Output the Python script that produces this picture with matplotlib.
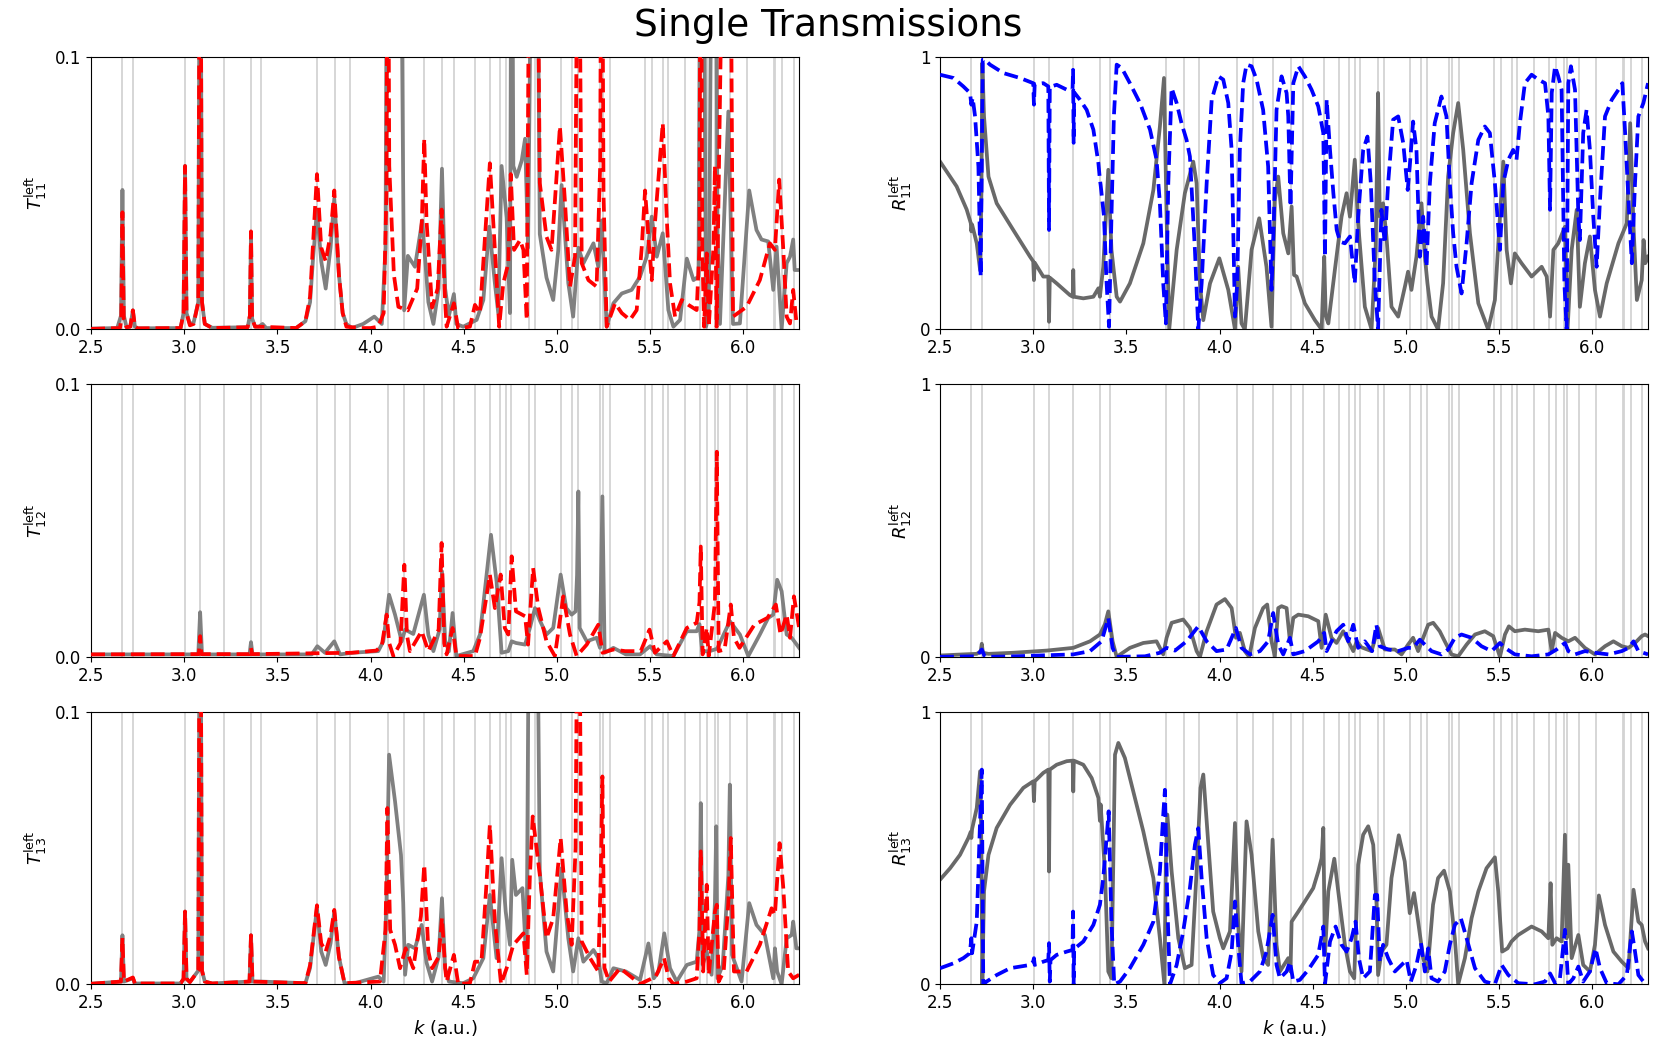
import matplotlib
matplotlib.use("Agg")
import matplotlib.pyplot as plt

# resonance positions (light grey vertical lines), same in every panel
VLINES = [2.668, 2.727, 3.004, 3.085, 3.214, 3.358, 3.412, 3.712, 3.809, 3.889,
          4.092, 4.181, 4.288, 4.383, 4.449, 4.561, 4.641, 4.695, 4.725, 4.752,
          4.851, 4.882, 5.020, 5.081, 5.115, 5.229, 5.247, 5.283, 5.473, 5.509,
          5.570, 5.597, 5.688, 5.770, 5.806, 5.849, 5.867, 5.931, 6.018, 6.163,
          6.172, 6.207, 6.270]

X_TICKS = [2.5, 3.0, 3.5, 4.0, 4.5, 5.0, 5.5, 6.0]

# (k, value) pairs
T11_GRAY = [(2.5, 0.0003), (2.64, 0.0005), (2.66, 0.005), (2.668, 0.0512), (2.676, 0.005),
            (2.69, 0.0008), (2.71, 0.001), (2.724, 0.007), (2.735, 0.001), (2.75, 0.0004),
            (2.98, 0.0005), (2.996, 0.006),
            (3.004, 0.060), (3.012, 0.006), (3.03, 0.002), (3.05, 0.0025), (3.075, 0.01), (3.085, 0.2),
            (3.095, 0.01), (3.11, 0.002), (3.15, 0.0006), (3.34, 0.0008), (3.352, 0.005), (3.358, 0.0355),
            (3.364, 0.004), (3.38, 0.001),
            (3.40, 0.001), (3.42, 0.002), (3.44, 0.0005), (3.6, 0.0005), (3.65, 0.003),
            (3.675, 0.01), (3.69, 0.025), (3.712, 0.044), (3.735, 0.025), (3.759, 0.015), (3.785, 0.03),
            (3.805, 0.048), (3.83, 0.02), (3.85, 0.006), (3.87, 0.002), (3.9, 0.0005), (3.96, 0.002),
            (4.02, 0.0047), (4.06, 0.002), (4.08, 0.03), (4.09, 0.2), (4.12, 0.2),
            (4.158, 0.2), (4.18, 0.007), (4.20, 0.027), (4.238, 0.023), (4.277, 0.040),
            (4.31, 0.01), (4.337, 0.002), (4.365, 0.015), (4.383, 0.059), (4.40, 0.015),
            (4.42, 0.005), (4.447, 0.013), (4.46, 0.002), (4.497, 0.001), (4.569, 0.0035),
            (4.605, 0.0108), (4.637, 0.0377), (4.667, 0.0169), (4.685, 0.006), (4.703, 0.060),
            (4.730, 0.041), (4.748, 0.006), (4.757, 0.2), (4.766, 0.06), (4.784, 0.056),
            (4.811, 0.062), (4.829, 0.070), (4.845, 0.03), (4.87, 0.2), (4.89, 0.2),
            (4.908, 0.035), (4.944, 0.019), (4.980, 0.0108), (5.007, 0.029), (5.025, 0.053),
            (5.061, 0.017), (5.087, 0.0047), (5.115, 0.03), (5.142, 0.0243), (5.196, 0.0316),
            (5.222, 0.023), (5.240, 0.04), (5.267, 0.001), (5.303, 0.0096), (5.348, 0.0132),
            (5.401, 0.0145), (5.446, 0.0194), (5.482, 0.0267), (5.509, 0.0414), (5.536, 0.0267),
            (5.568, 0.0353), (5.598, 0.0071), (5.625, 0.001), (5.661, 0.0035), (5.697, 0.026),
            (5.733, 0.0181), (5.760, 0.0194), (5.772, 0.2), (5.785, 0.2), (5.800, 0.001),
            (5.815, 0.0047), (5.835, 0.2), (5.850, 0.2), (5.862, 0.035), (5.875, 0.002),
            (5.92, 0.08), (5.945, 0.002), (5.982, 0.0022), (6.032, 0.051), (6.071, 0.0365),
            (6.098, 0.033), (6.134, 0.0323), (6.161, 0.0145), (6.179, 0.0304), (6.206, 0.0),
            (6.233, 0.0243), (6.251, 0.0267), (6.268, 0.033), (6.276, 0.0218), (6.3, 0.0218)]

T11_RED = [(2.5, 0.0002), (2.655, 0.0005), (2.662, 0.004), (2.668, 0.043), (2.675, 0.004),
           (2.69, 0.0008), (2.71, 0.001), (2.724, 0.007), (2.735, 0.001), (2.75, 0.0004),
           (2.98, 0.0005), (2.996, 0.006),
           (3.004, 0.060), (3.012, 0.006), (3.03, 0.0015), (3.05, 0.002), (3.075, 0.01), (3.085, 0.2),
           (3.095, 0.01), (3.11, 0.002), (3.15, 0.0005), (3.34, 0.0008), (3.352, 0.005), (3.358, 0.036),
           (3.364, 0.004), (3.38, 0.001),
           (3.40, 0.001), (3.6, 0.0005), (3.65, 0.003), (3.675, 0.012), (3.69, 0.03), (3.712, 0.057),
           (3.735, 0.03), (3.759, 0.025), (3.785, 0.035), (3.805, 0.051), (3.83, 0.02), (3.85, 0.006),
           (3.87, 0.001), (3.95, 0.0005), (4.0, 0.0005), (4.04, 0.001), (4.07, 0.006),
           (4.085, 0.05), (4.092, 0.2), (4.10, 0.06), (4.125, 0.02), (4.149, 0.0083),
           (4.20, 0.007), (4.25, 0.015), (4.275, 0.04), (4.288, 0.070), (4.30, 0.04),
           (4.33, 0.008), (4.36, 0.015), (4.381, 0.044), (4.40, 0.01), (4.408, 0.001),
           (4.447, 0.0096), (4.47, 0.0004), (4.533, 0.001), (4.56, 0.009), (4.587, 0.006),
           (4.614, 0.0341), (4.64, 0.061), (4.667, 0.0292), (4.69, 0.001), (4.712, 0.0169),
           (4.739, 0.0243), (4.752, 0.057), (4.77, 0.0292), (4.802, 0.0328), (4.82, 0.0292),
           (4.838, 0.0035), (4.856, 0.2), (4.89, 0.2), (4.908, 0.0537), (4.944, 0.034),
           (4.971, 0.0292), (4.989, 0.047), (5.016, 0.0745), (5.043, 0.047), (5.07, 0.0157),
           (5.097, 0.0267), (5.115, 0.2), (5.133, 0.0243), (5.169, 0.0181), (5.213, 0.0157),
           (5.232, 0.06), (5.24, 0.2), (5.25, 0.05), (5.267, 0.001), (5.312, 0.0096),
           (5.348, 0.006), (5.392, 0.0035), (5.428, 0.0071), (5.455, 0.03), (5.473, 0.051),
           (5.495, 0.03), (5.509, 0.0181), (5.526, 0.039), (5.55, 0.06), (5.568, 0.0757),
           (5.59, 0.04), (5.607, 0.0169), (5.634, 0.0047), (5.67, 0.0108), (5.706, 0.009),
           (5.75, 0.0071), (5.765, 0.03), (5.772, 0.2), (5.780, 0.03), (5.790, 0.001),
           (5.804, 0.0279), (5.815, 0.001), (5.84, 0.03), (5.848, 0.06), (5.857, 0.001),
           (5.90, 0.2), (5.928, 0.2), (5.945, 0.0047), (6.018, 0.0083), (6.089, 0.0181),
           (6.143, 0.0316), (6.17, 0.0292), (6.193, 0.055), (6.215, 0.0292), (6.233, 0.0047),
           (6.251, 0.0022), (6.268, 0.0145), (6.286, 0.0022), (6.3, 0.0022)]

T12_GRAY = [(2.5, 0.0009), (3.075, 0.0009), (3.085, 0.0164), (3.095, 0.0009), (3.35, 0.0009),
            (3.358, 0.0054), (3.366, 0.0009), (3.684, 0.0009), (3.714, 0.0039), (3.755, 0.0015),
            (3.805, 0.0057), (3.836, 0.0009), (3.9, 0.0015), (4.041, 0.0021), (4.068, 0.0057),
            (4.099, 0.0228), (4.131, 0.0155), (4.167, 0.0057), (4.185, 0.0100), (4.229, 0.0084),
            (4.286, 0.0228), (4.31, 0.008), (4.337, 0.0021), (4.37, 0.01), (4.383, 0.0314),
            (4.40, 0.006), (4.42, 0.002), (4.44, 0.0161), (4.46, 0.0003), (4.551, 0.0021),
            (4.587, 0.0082), (4.646, 0.0448), (4.676, 0.0277), (4.703, 0.0015), (4.739, 0.0021),
            (4.757, 0.0057), (4.78, 0.0051), (4.829, 0.0045), (4.855, 0.0106), (4.882, 0.0179),
            (4.91, 0.0131), (4.944, 0.0082), (4.98, 0.0106), (5.02, 0.0302), (5.05, 0.0179),
            (5.079, 0.0155), (5.10, 0.0167), (5.108, 0.03), (5.115, 0.0607), (5.122, 0.0106),
            (5.16, 0.0057), (5.213, 0.007), (5.231, 0.0033), (5.244, 0.0589), (5.256, 0.0015),
            (5.303, 0.0033), (5.37, 0.0009), (5.446, 0.0009), (5.5, 0.0039), (5.535, 0.0009),
            (5.625, 0.0003), (5.697, 0.0094), (5.75, 0.0094), (5.765, 0.012), (5.78, 0.002),
            (5.82, 0.0021), (5.86, 0.003), (5.928, 0.0131), (5.982, 0.0082), (6.027, 0.0003),
            (6.089, 0.0082), (6.134, 0.0143), (6.161, 0.0155), (6.182, 0.0283), (6.206, 0.0241),
            (6.233, 0.0082), (6.26, 0.007), (6.3, 0.0033)]

T12_RED = [(2.5, 0.0009), (3.078, 0.001), (3.085, 0.0076), (3.092, 0.001), (3.352, 0.001),
           (3.358, 0.0033), (3.364, 0.001), (3.9, 0.0015), (4.03, 0.0023), (4.06, 0.004),
           (4.086, 0.0155), (4.10, 0.005), (4.122, 0.0003), (4.16, 0.005), (4.181, 0.0338),
           (4.195, 0.008), (4.211, 0.0021), (4.274, 0.0094), (4.31, 0.0021), (4.365, 0.01),
           (4.381, 0.0418), (4.395, 0.005), (4.408, 0.0009), (4.44, 0.0106), (4.46, 0.0003),
           (4.56, 0.0003), (4.587, 0.0070), (4.64, 0.0302), (4.667, 0.0179), (4.698, 0.0302),
           (4.72, 0.0106), (4.739, 0.0082), (4.757, 0.0369), (4.78, 0.0167), (4.829, 0.0149),
           (4.845, 0.0045), (4.872, 0.0326), (4.90, 0.0179), (4.944, 0.0057), (4.989, 0.0003),
           (5.034, 0.0222), (5.07, 0.0082), (5.106, 0.0003), (5.16, 0.0045), (5.222, 0.0118),
           (5.245, 0.0015), (5.303, 0.0027), (5.366, 0.0021), (5.45, 0.0021), (5.497, 0.0100),
           (5.526, 0.0015), (5.59, 0.0057), (5.625, 0.0003), (5.697, 0.0106), (5.75, 0.0125),
           (5.765, 0.02), (5.772, 0.0405), (5.782, 0.0009), (5.804, 0.0106), (5.815, 0.0003),
           (5.848, 0.02), (5.858, 0.0753), (5.868, 0.0021), (5.90, 0.0027), (5.933, 0.0192),
           (5.95, 0.007), (5.98, 0.0033), (6.06, 0.0118), (6.13, 0.0143), (6.175, 0.0192),
           (6.20, 0.0082), (6.233, 0.0155), (6.251, 0.007), (6.272, 0.0222), (6.3, 0.0106)]

T13_GRAY = [(2.5, 0.0002), (2.66, 0.001), (2.668, 0.018), (2.676, 0.001), (2.724, 0.0022),
            (2.735, 0.0003), (2.98, 0.0003), (2.996, 0.002), (3.004, 0.0267), (3.012, 0.002),
            (3.03, 0.0008), (3.075, 0.005),
            (3.085, 0.2), (3.095, 0.005), (3.11, 0.001), (3.15, 0.0003), (3.35, 0.001),
            (3.358, 0.018), (3.366, 0.001),
            (3.412, 0.001), (3.65, 0.0004), (3.675, 0.006), (3.69, 0.015), (3.712, 0.028), (3.735, 0.012),
            (3.759, 0.0071), (3.785, 0.015), (3.805, 0.0267), (3.83, 0.01), (3.86, 0.0004),
            (3.916, 0.0004), (4.041, 0.0028), (4.07, 0.001), (4.085, 0.03), (4.099, 0.0843),
            (4.131, 0.0672), (4.163, 0.0475), (4.175, 0.03), (4.185, 0.0035), (4.202, 0.0145),
            (4.238, 0.0132), (4.274, 0.0218), (4.30, 0.008), (4.33, 0.001), (4.365, 0.01),
            (4.383, 0.0316), (4.40, 0.006), (4.42, 0.001), (4.497, 0.0004), (4.551, 0.0022),
            (4.605, 0.0096), (4.64, 0.0328), (4.676, 0.0096), (4.703, 0.0463), (4.725, 0.0267),
            (4.748, 0.0145), (4.76, 0.0457), (4.78, 0.0328), (4.815, 0.0353), (4.837, 0.0071),
            (4.855, 0.2), (4.887, 0.2), (4.908, 0.0414), (4.944, 0.0120), (4.98, 0.0047),
            (5.025, 0.0426), (5.061, 0.0169), (5.087, 0.0047), (5.115, 0.0169), (5.142, 0.0083),
            (5.196, 0.0126), (5.222, 0.0096), (5.24, 0.001), (5.267, 0.0004), (5.303, 0.0059),
            (5.37, 0.0047), (5.446, 0.0016), (5.491, 0.015), (5.52, 0.0022), (5.545, 0.0047),
            (5.576, 0.0187), (5.607, 0.0059), (5.643, 0.001), (5.697, 0.0071), (5.75, 0.0083),
            (5.765, 0.02), (5.772, 0.0665), (5.782, 0.0071), (5.804, 0.012), (5.83, 0.0035),
            (5.848, 0.03), (5.855, 0.058), (5.862, 0.0022), (5.89, 0.0071), (5.92, 0.04),
            (5.928, 0.0733), (5.94, 0.0108), (5.991, 0.001), (6.032, 0.0298), (6.071, 0.0218),
            (6.116, 0.0181), (6.161, 0.0022), (6.17, 0.0132), (6.182, 0.0047), (6.206, 0.0),
            (6.233, 0.0169), (6.26, 0.0181), (6.268, 0.0230), (6.285, 0.0132), (6.3, 0.0132)]

T13_RED = [(2.5, 0.0002), (2.66, 0.001), (2.668, 0.017), (2.676, 0.001), (2.724, 0.0025),
           (2.735, 0.0003), (2.98, 0.0003), (2.996, 0.002), (3.004, 0.0267), (3.012, 0.002),
           (3.03, 0.0008), (3.075, 0.005),
           (3.085, 0.2), (3.095, 0.005), (3.11, 0.001), (3.15, 0.0003), (3.35, 0.001),
           (3.358, 0.018), (3.366, 0.001),
           (3.65, 0.0004), (3.675, 0.007), (3.69, 0.016), (3.712, 0.029), (3.735, 0.015), (3.759, 0.0120),
           (3.785, 0.018), (3.805, 0.0273), (3.83, 0.01), (3.86, 0.0004), (4.05, 0.001),
           (4.08, 0.02), (4.09, 0.0647), (4.105, 0.02), (4.131, 0.0145), (4.158, 0.0059),
           (4.188, 0.0132), (4.229, 0.0059), (4.27, 0.025), (4.288, 0.0439), (4.31, 0.012),
           (4.33, 0.0059), (4.365, 0.01), (4.383, 0.0243), (4.40, 0.006), (4.408, 0.001),
           (4.447, 0.0108), (4.47, 0.0001), (4.533, 0.0004), (4.56, 0.0083), (4.595, 0.0083),
           (4.62, 0.035), (4.64, 0.0586), (4.667, 0.023), (4.70, 0.0001), (4.73, 0.0059),
           (4.766, 0.0145), (4.82, 0.0187), (4.838, 0.0035), (4.855, 0.04), (4.87, 0.0616),
           (4.908, 0.0402), (4.944, 0.0169), (4.98, 0.0243), (5.02, 0.0537), (5.052, 0.0267),
           (5.079, 0.0145), (5.10, 0.05), (5.115, 0.2), (5.133, 0.0157), (5.178, 0.0096),
           (5.222, 0.0047), (5.235, 0.04), (5.244, 0.0763), (5.255, 0.006), (5.28, 0.001),
           (5.339, 0.0059), (5.384, 0.0035), (5.446, 0.0001), (5.53, 0.0028), (5.575, 0.0096),
           (5.60, 0.0022), (5.625, 0.0001), (5.697, 0.001), (5.75, 0.0022), (5.765, 0.02),
           (5.772, 0.0488), (5.785, 0.0047), (5.804, 0.0365), (5.815, 0.0035), (5.848, 0.0267),
           (5.858, 0.0292), (5.868, 0.001), (5.895, 0.0047), (5.92, 0.03), (5.933, 0.0537),
           (5.95, 0.0047), (6.018, 0.0047), (6.089, 0.0145), (6.152, 0.0279), (6.17, 0.0255),
           (6.195, 0.0518), (6.215, 0.0353), (6.241, 0.0047), (6.268, 0.0022), (6.3, 0.0035)]

R11_GRAY = [(2.5, 0.616), (2.589, 0.525), (2.643, 0.44), (2.665, 0.39), (2.668, 0.36),
            (2.672, 0.385), (2.697, 0.316), (2.715, 0.218), (2.722, 0.5), (2.727, 0.978),
            (2.736, 0.782), (2.76, 0.561), (2.804, 0.463), (2.893, 0.365), (2.983, 0.267),
            (3.0, 0.25), (3.004, 0.181), (3.008, 0.245), (3.054, 0.194), (3.081, 0.194),
            (3.085, 0.028), (3.089, 0.19), (3.126, 0.169), (3.197, 0.126), (3.212, 0.12),
            (3.215, 0.218), (3.218, 0.12), (3.269, 0.114), (3.323, 0.12), (3.35, 0.151),
            (3.358, 0.12), (3.362, 0.145), (3.376, 0.23), (3.403, 0.586), (3.42, 0.292),
            (3.448, 0.12), (3.466, 0.102), (3.519, 0.169), (3.591, 0.316), (3.645, 0.512),
            (3.68, 0.745), (3.702, 0.923), (3.716, 0.414), (3.73, 0.0), (3.77, 0.292),
            (3.814, 0.5), (3.859, 0.616), (3.877, 0.537), (3.895, 0.169), (3.913, 0.034),
            (3.949, 0.169), (3.999, 0.261), (4.047, 0.145), (4.083, 0.0), (4.1, 0.23),
            (4.118, 0.022), (4.136, 0.0), (4.172, 0.292), (4.213, 0.408), (4.252, 0.23),
            (4.279, 0.01), (4.297, 0.475), (4.315, 0.561), (4.342, 0.353), (4.369, 0.279),
            (4.387, 0.451), (4.40, 0.2), (4.414, 0.194), (4.458, 0.096), (4.512, 0.034),
            (4.548, 0.0), (4.562, 0.267), (4.57, 0.05), (4.584, 0.022), (4.619, 0.218),
            (4.655, 0.414), (4.682, 0.5), (4.70, 0.414), (4.726, 0.623), (4.744, 0.39),
            (4.78, 0.083), (4.816, 0.0), (4.838, 0.292), (4.851, 0.868), (4.86, 0.414),
            (4.878, 0.463), (4.896, 0.341), (4.923, 0.083), (4.959, 0.047), (4.995, 0.157),
            (5.012, 0.212), (5.03, 0.145), (5.057, 0.267), (5.084, 0.463), (5.102, 0.267),
            (5.116, 0.169), (5.138, 0.047), (5.173, 0.0), (5.2, 0.169), (5.227, 0.561),
            (5.254, 0.721), (5.281, 0.831), (5.308, 0.659), (5.344, 0.353), (5.389, 0.096),
            (5.442, 0.0), (5.478, 0.108), (5.505, 0.414), (5.523, 0.616), (5.541, 0.292),
            (5.564, 0.169), (5.585, 0.279), (5.621, 0.243), (5.675, 0.194), (5.729, 0.23),
            (5.756, 0.194), (5.774, 0.047), (5.792, 0.292), (5.818, 0.316), (5.854, 0.377),
            (5.868, 0.0), (5.89, 0.292), (5.917, 0.439), (5.934, 0.083), (5.961, 0.243),
            (5.988, 0.341), (6.015, 0.145), (6.042, 0.047), (6.078, 0.169), (6.141, 0.316),
            (6.186, 0.39), (6.204, 0.757), (6.222, 0.377), (6.24, 0.108), (6.266, 0.181),
            (6.276, 0.328), (6.285, 0.243), (6.3, 0.267)]

R11_BLUE = [(2.5, 0.935), (2.572, 0.923), (2.625, 0.892), (2.661, 0.868), (2.668, 0.825),
            (2.675, 0.85), (2.688, 0.782), (2.706, 0.598), (2.718, 0.194), (2.724, 0.6),
            (2.729, 0.99), (2.741, 0.99), (2.768, 0.972), (2.84, 0.941), (2.929, 0.923),
            (3.0, 0.904), (3.004, 0.825), (3.008, 0.9), (3.054, 0.904), (3.081, 0.892),
            (3.085, 0.365), (3.089, 0.89), (3.126, 0.898), (3.18, 0.88), (3.211, 0.88),
            (3.214, 0.953), (3.217, 0.685), (3.22, 0.87), (3.251, 0.843), (3.287, 0.806),
            (3.323, 0.733), (3.35, 0.61), (3.358, 0.55), (3.362, 0.53), (3.38, 0.414),
            (3.394, 0.169), (3.407, 0.01), (3.42, 0.414), (3.433, 0.782), (3.448, 0.972),
            (3.475, 0.96), (3.519, 0.904), (3.573, 0.831), (3.627, 0.733), (3.662, 0.623),
            (3.68, 0.463), (3.698, 0.169), (3.712, 0.022), (3.725, 0.537), (3.743, 0.886),
            (3.77, 0.831), (3.796, 0.757), (3.823, 0.696), (3.841, 0.635), (3.868, 0.292),
            (3.886, 0.0), (3.904, 0.169), (3.931, 0.537), (3.958, 0.843), (3.994, 0.929),
            (4.02, 0.917), (4.047, 0.831), (4.065, 0.659), (4.083, 0.047), (4.095, 0.169),
            (4.109, 0.659), (4.127, 0.904), (4.145, 0.972), (4.172, 0.966), (4.199, 0.917),
            (4.234, 0.806), (4.261, 0.598), (4.279, 0.145), (4.292, 0.414), (4.306, 0.806),
            (4.333, 0.929), (4.36, 0.868), (4.369, 0.782), (4.381, 0.451), (4.396, 0.904),
            (4.423, 0.966), (4.458, 0.929), (4.494, 0.88), (4.53, 0.819), (4.557, 0.721),
            (4.566, 0.267), (4.575, 0.843), (4.593, 0.659), (4.611, 0.5), (4.629, 0.365),
            (4.647, 0.322), (4.673, 0.316), (4.70, 0.341), (4.726, 0.169), (4.744, 0.414),
            (4.771, 0.659), (4.794, 0.708), (4.812, 0.537), (4.834, 0.169), (4.851, 0.0),
            (4.869, 0.439), (4.887, 0.316), (4.905, 0.537), (4.932, 0.77), (4.959, 0.782),
            (4.986, 0.684), (5.01, 0.512), (5.021, 0.598), (5.039, 0.763), (5.057, 0.659),
            (5.075, 0.267), (5.093, 0.414), (5.111, 0.23), (5.129, 0.537), (5.155, 0.757),
            (5.191, 0.855), (5.218, 0.782), (5.236, 0.537), (5.254, 0.353), (5.272, 0.23),
            (5.299, 0.132), (5.326, 0.316), (5.353, 0.537), (5.389, 0.696), (5.424, 0.745),
            (5.451, 0.721), (5.478, 0.537), (5.505, 0.292), (5.523, 0.537), (5.55, 0.623),
            (5.576, 0.659), (5.594, 0.623), (5.612, 0.757), (5.639, 0.904), (5.675, 0.935),
            (5.711, 0.917), (5.747, 0.904), (5.765, 0.782), (5.774, 0.439), (5.783, 0.868),
            (5.801, 0.966), (5.818, 0.929), (5.836, 0.88), (5.851, 0.169), (5.863, 0.0),
            (5.872, 0.904), (5.886, 0.966), (5.908, 0.88), (5.926, 0.414), (5.934, 0.328),
            (5.952, 0.721), (5.97, 0.806), (5.988, 0.659), (6.006, 0.414), (6.024, 0.23),
            (6.042, 0.475), (6.069, 0.782), (6.105, 0.843), (6.141, 0.88), (6.162, 0.904),
            (6.177, 0.721), (6.195, 0.475), (6.213, 0.243), (6.23, 0.537), (6.248, 0.782),
            (6.275, 0.831), (6.3, 0.904)]

R12_GRAY = [(2.5, 0.005), (2.625, 0.009), (2.697, 0.011), (2.718, 0.02), (2.724, 0.048),
            (2.73, 0.015), (2.76, 0.011), (2.893, 0.015), (3.072, 0.023), (3.215, 0.033),
            (3.305, 0.057), (3.358, 0.082), (3.385, 0.12), (3.403, 0.167), (3.426, 0.057),
            (3.448, 0.0), (3.519, 0.033), (3.591, 0.051), (3.662, 0.057), (3.698, 0.009),
            (3.716, 0.07), (3.743, 0.125), (3.805, 0.137), (3.841, 0.106), (3.877, 0.021),
            (3.895, 0.0), (3.931, 0.094), (3.984, 0.192), (4.029, 0.212), (4.065, 0.179),
            (4.088, 0.07), (4.109, 0.088), (4.136, 0.021), (4.159, 0.0), (4.19, 0.106),
            (4.234, 0.179), (4.256, 0.192), (4.279, 0.057), (4.297, 0.002), (4.315, 0.179),
            (4.333, 0.186), (4.36, 0.179), (4.378, 0.057), (4.396, 0.143), (4.423, 0.155),
            (4.476, 0.149), (4.53, 0.131), (4.548, 0.033), (4.57, 0.155), (4.601, 0.07),
            (4.628, 0.051), (4.664, 0.094), (4.691, 0.057), (4.718, 0.021), (4.736, 0.057),
            (4.762, 0.035), (4.816, 0.021), (4.851, 0.106), (4.887, 0.027), (4.941, 0.027),
            (4.977, 0.009), (5.012, 0.045), (5.039, 0.07), (5.066, 0.021), (5.093, 0.07),
            (5.12, 0.118), (5.147, 0.125), (5.182, 0.094), (5.209, 0.057), (5.245, 0.009),
            (5.281, 0.002), (5.326, 0.045), (5.371, 0.082), (5.424, 0.094), (5.469, 0.076),
            (5.505, 0.0), (5.532, 0.082), (5.553, 0.112), (5.585, 0.094), (5.639, 0.1),
            (5.711, 0.094), (5.765, 0.1), (5.783, 0.021), (5.801, 0.088), (5.836, 0.07),
            (5.872, 0.057), (5.908, 0.07), (5.961, 0.033), (6.015, 0.009), (6.069, 0.039),
            (6.114, 0.057), (6.159, 0.039), (6.195, 0.033), (6.23, 0.051), (6.266, 0.076),
            (6.284, 0.082), (6.3, 0.076)]

R12_BLUE = [(2.5, 0.0), (2.697, 0.002), (2.724, 0.027), (2.74, 0.0), (2.9, 0.002),
            (3.215, 0.009), (3.305, 0.021), (3.367, 0.057), (3.403, 0.143), (3.426, 0.033),
            (3.448, 0.0), (3.6, 0.002), (3.68, 0.015), (3.716, 0.033), (3.761, 0.023),
            (3.823, 0.057), (3.886, 0.112), (3.931, 0.057), (3.984, 0.021), (4.038, 0.027),
            (4.088, 0.106), (4.118, 0.033), (4.163, 0.009), (4.217, 0.021), (4.261, 0.057),
            (4.288, 0.161), (4.315, 0.045), (4.342, 0.009), (4.378, 0.07), (4.396, 0.009),
            (4.458, 0.021), (4.53, 0.057), (4.562, 0.088), (4.575, 0.021), (4.601, 0.057),
            (4.628, 0.094), (4.664, 0.118), (4.691, 0.057), (4.718, 0.118), (4.744, 0.033),
            (4.78, 0.057), (4.819, 0.021), (4.842, 0.118), (4.86, 0.039), (4.905, 0.027),
            (4.959, 0.021), (5.012, 0.033), (5.039, 0.033), (5.075, 0.063), (5.102, 0.045),
            (5.138, 0.021), (5.191, 0.009), (5.227, 0.027), (5.263, 0.07), (5.299, 0.082),
            (5.353, 0.07), (5.406, 0.039), (5.46, 0.021), (5.505, 0.051), (5.532, 0.033),
            (5.585, 0.009), (5.675, 0.002), (5.765, 0.009), (5.809, 0.027), (5.854, 0.051),
            (5.872, 0.021), (5.908, 0.009), (5.961, 0.021), (6.015, 0.015), (6.087, 0.009),
            (6.159, 0.021), (6.195, 0.033), (6.222, 0.057), (6.248, 0.021), (6.3, 0.009)]

R13_GRAY = [(2.5, 0.384), (2.554, 0.426), (2.607, 0.475), (2.652, 0.537), (2.665, 0.56),
            (2.668, 0.537), (2.672, 0.57), (2.697, 0.647), (2.715, 0.782), (2.722, 0.5),
            (2.727, 0.0), (2.736, 0.341), (2.76, 0.475), (2.804, 0.574), (2.876, 0.659),
            (2.947, 0.721), (3.0, 0.745), (3.004, 0.672), (3.008, 0.745), (3.054, 0.776),
            (3.081, 0.788), (3.085, 0.414), (3.089, 0.788), (3.126, 0.806), (3.18, 0.819),
            (3.212, 0.821), (3.215, 0.708), (3.218, 0.821), (3.269, 0.806), (3.314, 0.757),
            (3.35, 0.684), (3.358, 0.6), (3.362, 0.66), (3.385, 0.414), (3.403, 0.047),
            (3.42, 0.022), (3.439, 0.843), (3.457, 0.886), (3.492, 0.831), (3.537, 0.708),
            (3.591, 0.561), (3.645, 0.39), (3.68, 0.169), (3.704, 0.0), (3.712, 0.45),
            (3.72, 0.623), (3.743, 0.414), (3.779, 0.169), (3.814, 0.059), (3.85, 0.071),
            (3.877, 0.414), (3.898, 0.721), (3.913, 0.77), (3.931, 0.598), (3.966, 0.267),
            (4.002, 0.169), (4.02, 0.132), (4.056, 0.194), (4.083, 0.592), (4.1, 0.23),
            (4.118, 0.047), (4.145, 0.598), (4.172, 0.475), (4.208, 0.194), (4.235, 0.096),
            (4.261, 0.071), (4.285, 0.531), (4.306, 0.145), (4.324, 0.047), (4.369, 0.096),
            (4.381, 0.047), (4.387, 0.23), (4.423, 0.267), (4.458, 0.304), (4.503, 0.353),
            (4.53, 0.414), (4.548, 0.463), (4.557, 0.574), (4.566, 0.108), (4.584, 0.341),
            (4.616, 0.461), (4.646, 0.292), (4.673, 0.145), (4.70, 0.047), (4.723, 0.022),
            (4.744, 0.439), (4.771, 0.549), (4.798, 0.58), (4.825, 0.512), (4.843, 0.292),
            (4.851, 0.034), (4.869, 0.120), (4.896, 0.145), (4.923, 0.39), (4.962, 0.547),
            (4.994, 0.451), (5.021, 0.261), (5.044, 0.335), (5.066, 0.23), (5.093, 0.096),
            (5.116, 0.047), (5.146, 0.292), (5.173, 0.39), (5.205, 0.417), (5.236, 0.341),
            (5.263, 0.169), (5.281, 0.0), (5.317, 0.096), (5.353, 0.243), (5.389, 0.341),
            (5.433, 0.426), (5.478, 0.466), (5.496, 0.341), (5.517, 0.120), (5.546, 0.132),
            (5.567, 0.157), (5.603, 0.181), (5.675, 0.212), (5.729, 0.194), (5.765, 0.169),
            (5.777, 0.371), (5.786, 0.145), (5.809, 0.169), (5.836, 0.157), (5.854, 0.549),
            (5.863, 0.169), (5.872, 0.439), (5.89, 0.096), (5.926, 0.181), (5.952, 0.071),
            (5.988, 0.047), (6.015, 0.145), (6.036, 0.326), (6.069, 0.218), (6.114, 0.120),
            (6.159, 0.083), (6.195, 0.059), (6.222, 0.347), (6.248, 0.23), (6.266, 0.218),
            (6.284, 0.157), (6.3, 0.132)]

R13_BLUE = [(2.5, 0.059), (2.572, 0.077), (2.625, 0.096), (2.66, 0.114), (2.668, 0.169),
            (2.672, 0.114), (2.697, 0.23), (2.715, 0.598), (2.724, 0.788), (2.732, 0.0),
            (2.75, 0.01), (2.804, 0.034), (2.876, 0.059), (2.983, 0.071), (3.0, 0.083),
            (3.004, 0.096), (3.008, 0.071), (3.054, 0.083), (3.081, 0.089), (3.085, 0.151),
            (3.089, 0.01), (3.093, 0.089), (3.126, 0.108), (3.18, 0.12), (3.211, 0.126),
            (3.214, 0.267), (3.217, 0.0), (3.22, 0.13), (3.269, 0.157), (3.323, 0.218),
            (3.358, 0.292), (3.376, 0.39), (3.394, 0.537), (3.405, 0.635), (3.42, 0.23),
            (3.435, 0.0), (3.466, 0.01), (3.519, 0.059), (3.591, 0.145), (3.645, 0.23),
            (3.68, 0.414), (3.698, 0.623), (3.707, 0.714), (3.72, 0.292), (3.734, 0.0),
            (3.77, 0.071), (3.805, 0.194), (3.841, 0.353), (3.868, 0.512), (3.886, 0.573),
            (3.904, 0.39), (3.931, 0.169), (3.966, 0.034), (4.002, 0.004), (4.038, 0.022),
            (4.065, 0.12), (4.083, 0.304), (4.1, 0.145), (4.118, 0.004), (4.163, 0.01),
            (4.217, 0.047), (4.252, 0.12), (4.285, 0.255), (4.306, 0.071), (4.324, 0.022),
            (4.36, 0.047), (4.378, 0.083), (4.396, 0.01), (4.431, 0.016), (4.476, 0.053),
            (4.53, 0.108), (4.557, 0.212), (4.566, 0.0), (4.593, 0.157), (4.623, 0.212),
            (4.655, 0.145), (4.682, 0.12), (4.709, 0.169), (4.73, 0.23), (4.748, 0.096),
            (4.771, 0.022), (4.807, 0.047), (4.834, 0.328), (4.846, 0.328), (4.86, 0.083),
            (4.878, 0.145), (4.905, 0.096), (4.941, 0.047), (4.977, 0.071), (5.004, 0.089),
            (5.027, 0.01), (5.057, 0.071), (5.081, 0.151), (5.102, 0.047), (5.12, 0.132),
            (5.138, 0.022), (5.173, 0.01), (5.209, 0.047), (5.236, 0.145), (5.263, 0.218),
            (5.295, 0.243), (5.326, 0.169), (5.371, 0.059), (5.424, 0.01), (5.478, 0.0),
            (5.514, 0.071), (5.55, 0.034), (5.603, 0.004), (5.692, 0.0), (5.747, 0.01),
            (5.774, 0.04), (5.801, 0.004), (5.827, 0.022), (5.854, 0.2), (5.872, 0.0),
            (5.899, 0.022), (5.926, 0.065), (5.952, 0.01), (5.988, 0.047), (6.018, 0.132),
            (6.042, 0.059), (6.078, 0.004), (6.141, 0.0), (6.186, 0.034), (6.213, 0.194),
            (6.23, 0.12), (6.248, 0.034), (6.275, 0.01), (6.3, 0.004)]

T_LABELS = [r"$T_{11}^{\mathrm{left}}$", r"$T_{12}^{\mathrm{left}}$", r"$T_{13}^{\mathrm{left}}$"]
R_LABELS = [r"$R_{11}^{\mathrm{left}}$", r"$R_{12}^{\mathrm{left}}$", r"$R_{13}^{\mathrm{left}}$"]


def draw(ax, solid, dashed, solid_color, dashed_color):
    for x in VLINES:
        ax.axvline(x, color="lightgray", lw=1.3, zorder=1)
    ks, vs = zip(*solid)
    ax.plot(ks, vs, color=solid_color, lw=2.7, zorder=2)
    ks, vs = zip(*dashed)
    ax.plot(ks, vs, color=dashed_color, lw=2.7, ls="--", zorder=3)
    ax.set_xlim(2.5, 6.3)
    ax.set_xticks(X_TICKS)
    ax.tick_params(labelsize=12)


def main():
    fig, axes = plt.subplots(3, 2, figsize=(16.57, 10.46), dpi=100)
    fig.subplots_adjust(left=0.055, right=0.9946, top=0.9455, bottom=0.059,
                        wspace=0.199, hspace=0.202)

    t_data = [(T11_GRAY, T11_RED), (T12_GRAY, T12_RED), (T13_GRAY, T13_RED)]
    r_data = [(R11_GRAY, R11_BLUE), (R12_GRAY, R12_BLUE), (R13_GRAY, R13_BLUE)]

    for i in range(3):
        ax = axes[i, 0]
        draw(ax, t_data[i][0], t_data[i][1], "grey", "red")
        ax.set_ylim(0, 0.1)
        ax.set_yticks([0, 0.1])
        ax.set_yticklabels(["0.0", "0.1"])
        ax.set_ylabel(T_LABELS[i], fontsize=13)

        ax = axes[i, 1]
        draw(ax, r_data[i][0], r_data[i][1], "dimgray", "blue")
        ax.set_ylim(0, 1)
        ax.set_yticks([0, 1])
        ax.set_yticklabels(["0", "1"])
        ax.set_ylabel(R_LABELS[i], fontsize=13)

    axes[2, 0].set_xlabel(r"$k$ (a.u.)", fontsize=13)
    axes[2, 1].set_xlabel(r"$k$ (a.u.)", fontsize=13)

    fig.suptitle("Single Transmissions", fontsize=27, y=0.992)
    fig.savefig("out.png", dpi=100)


if __name__ == "__main__":
    main()
